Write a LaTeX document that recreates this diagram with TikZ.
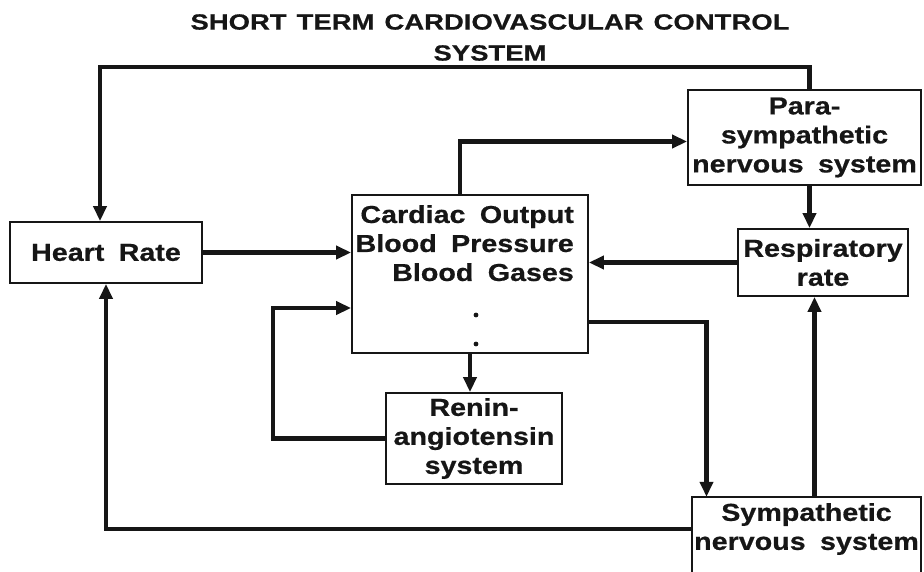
\documentclass[tikz,border=0pt]{standalone}
\usepackage{fontspec}
\setmainfont{Liberation Sans}[FakeStretch=1.17, WordSpace=1.8, FakeBold=0.6]
\newfontfamily\titrefont{Liberation Sans}[FakeStretch=1.25, WordSpace=1.3, FakeBold=0.6]
\usepackage{tikz}
\usetikzlibrary{arrows.meta, positioning}
\definecolor{encre}{HTML}{161616}
\tikzset{
  bloc/.style={rectangle, draw=encre, line width=1.8pt, fill=white, text=encre,
    font=\fontsize{24.5}{29}\selectfont\bfseries, align=center, inner sep=0pt},
  texte/.style={text=encre, font=\fontsize{24.5}{29}\selectfont\bfseries,
    align=center, inner sep=0pt},
  titre/.style={text=encre, font=\titrefont\fontsize{22}{31}\selectfont\bfseries,
    align=center, inner sep=0pt},
  cadre/.style={draw=encre, line width=1.8pt},
  fleche/.style={-{Triangle[length=15pt, width=13pt]}, line width=4.2pt, draw=encre},
}

\begin{document}
\begin{tikzpicture}[x=1pt, y=-1pt]
    \clip (0,0) rectangle (924,571);
    \fill[white] (0,0) rectangle (924,571);
    % Titre
    \node[titre] (titre) at (490,37.5) {SHORT TERM CARDIOVASCULAR CONTROL\\SYSTEM};

    % Blocs
    \node[bloc, minimum width=192, minimum height=61] (coeur) at (106,252.5) {Heart Rate};
    \node[bloc, minimum width=236, minimum height=158] (debit) at (470,274) {};
    \node[texte, align=right, anchor=north east] (debittxt) at (574,205)
      {Cardiac Output\\Blood Pressure\\Blood Gases};
    \fill[encre] (476,315) circle (2.4) (476,344) circle (2.4);
    \node[bloc, minimum width=176, minimum height=91] (renine) at (474,438.5)
      {Renin-\\angiotensin\\system};
    \node[bloc, minimum width=233, minimum height=95] (para) at (804.5,137.5)
      {Para-\\sympathetic\\nervous system};
    \node[bloc, minimum width=170, minimum height=67] (resp) at (823,262.5)
      {Respiratory\\rate};
    \node[texte, minimum width=229, minimum height=64] (sympa) at (806.5,529)
      {Sympathetic\\nervous system};
    \draw[cadre] ([yshift=-60pt]sympa.south west) -- (sympa.north west)
      -- (sympa.north east) -- ([yshift=-60pt]sympa.south east);

    % Liaisons
    \draw[fleche] (coeur) -- (coeur -| debit.west);
    \draw[fleche] (resp) -- (resp -| debit.east);
    \draw[fleche] (debit.south) -- (debit.south |- renine.north);
    \draw[fleche] (renine.west) -- ++(-112,0) |- ([yshift=-34pt]debit.west);
    \draw[fleche] ([xshift=-10pt]debit.north) |- ([yshift=-4pt]para.west);
    \draw[fleche] ([xshift=5pt]para.north) -- ++(0,-22) -| ([xshift=-6pt]coeur.north);
    \draw[fleche] ([xshift=5pt]para.south) -- ([xshift=5pt]para.south |- resp.north);
    \draw[fleche] ([yshift=-48pt]debit.east) -| ([xshift=-100pt]sympa.north);
    \draw[fleche] ([xshift=8pt]sympa.north) -- ([xshift=8pt]sympa.north |- resp.south);
    \draw[fleche] (sympa.west) -| (coeur.south);
\end{tikzpicture}
\end{document}
